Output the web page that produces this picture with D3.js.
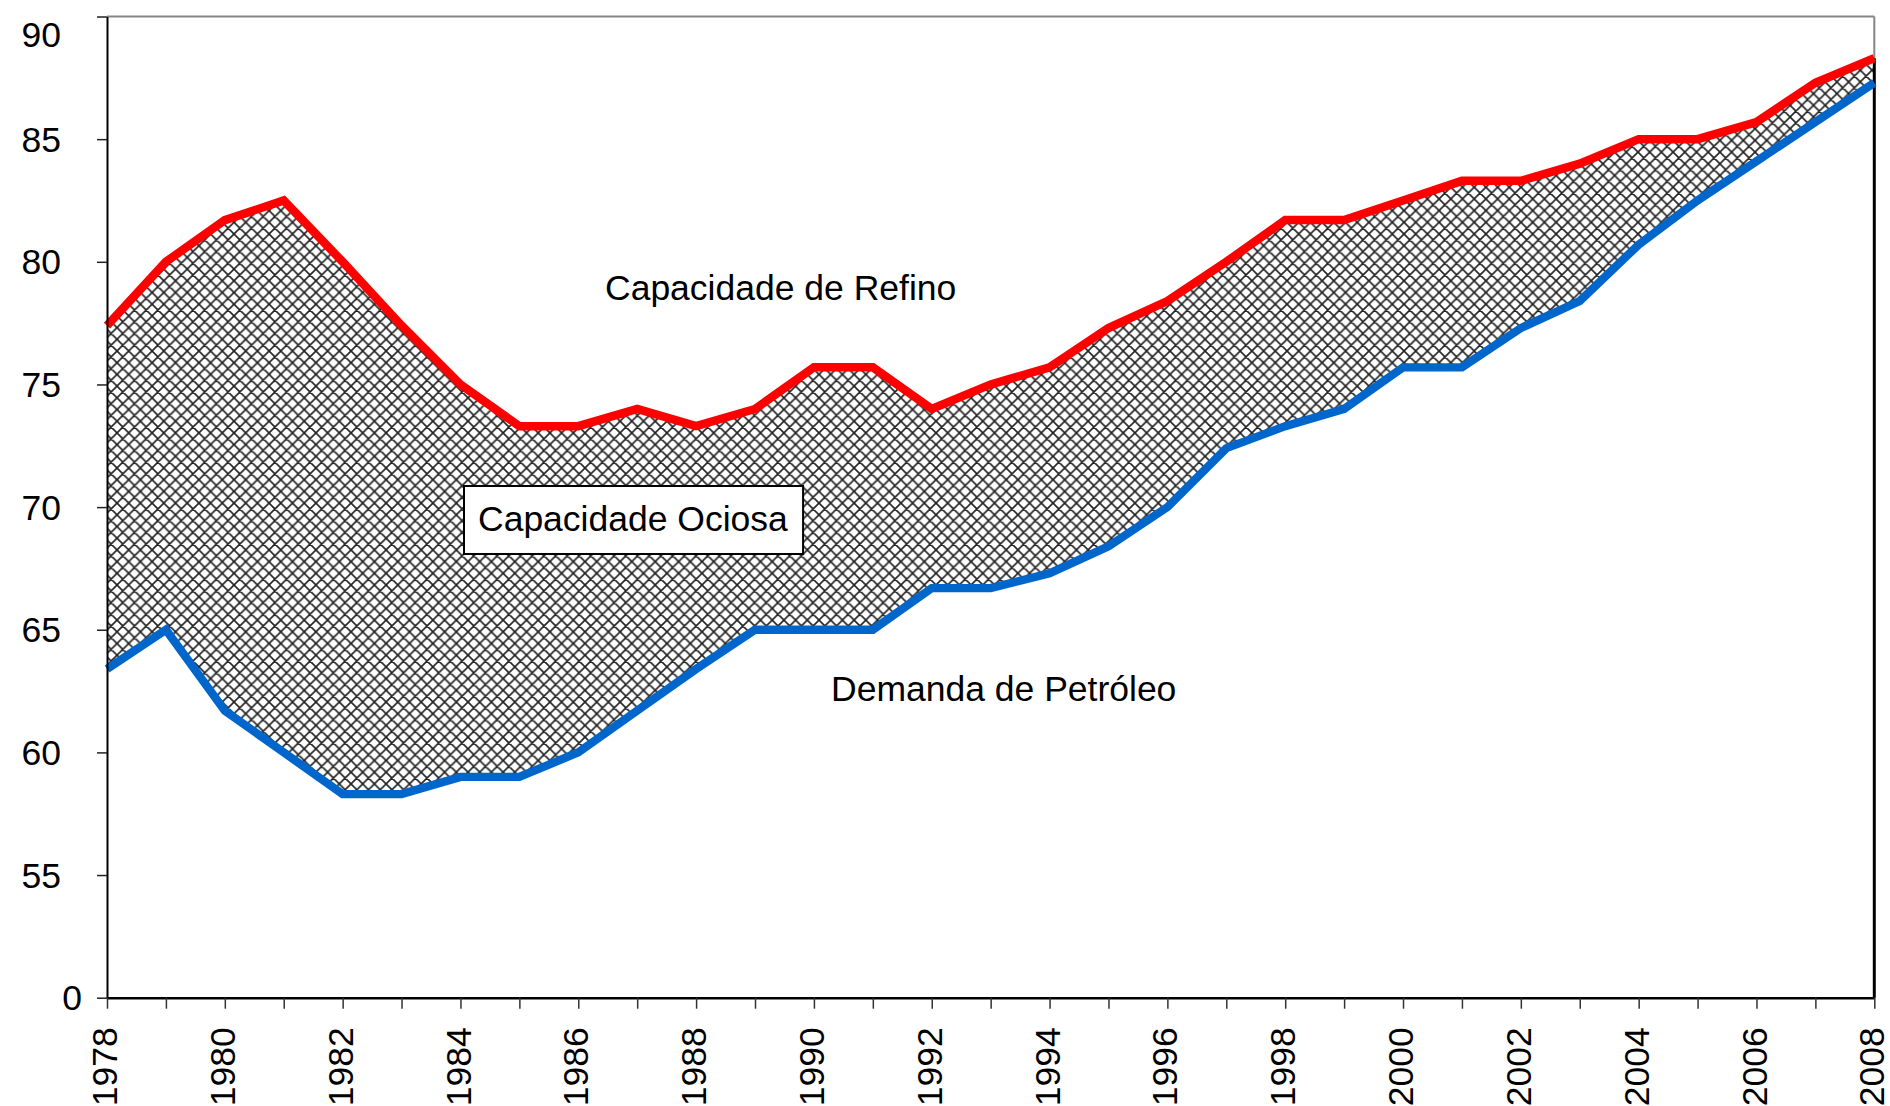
<!DOCTYPE html>
<html><head><meta charset="utf-8">
<script src="https://cdn.jsdelivr.net/npm/d3@7"></script>
<style>
body{margin:0;background:#fff}
svg{display:block}
text{font-family:"Liberation Sans",Arial,Helvetica,sans-serif;fill:#000}
</style>
</head><body>
<svg id="chart" width="1890" height="1106"></svg>
<script>
const years = [1978,1979,1980,1981,1982,1983,1984,1985,1986,1987,1988,1989,1990,1991,1992,1993,1994,1995,1996,1997,1998,1999,2000,2001,2002,2003,2004,2005,2006,2007,2008];
const capacidadeRefino = [77.4,80.0,81.7,82.5,80.0,77.4,75.0,73.3,73.3,74.0,73.3,74.0,75.7,75.7,74.0,75.0,75.7,77.3,78.4,80.0,81.7,81.7,82.5,83.3,83.3,84.0,85.0,85.0,85.7,87.3,88.3];
const demandaPetroleo = [63.4,65.0,61.7,60.0,58.3,58.3,59.0,59.0,60.0,61.7,63.4,65.0,65.0,65.0,66.7,66.7,67.3,68.4,70.0,72.4,73.3,74.0,75.7,75.7,77.3,78.4,80.7,82.5,84.1,85.7,87.3];
const yTickValues = [50,55,60,65,70,75,80,85,90];
const yTickLabels = ["0","55","60","65","70","75","80","85","90"];
const xTickLabels = ["1978","1980","1982","1984","1986","1988","1990","1992","1994","1996","1998","2000","2002","2004","2006","2008"];
const labelRefino = "Capacidade de Refino";
const labelDemanda = "Demanda de Petróleo";
const labelOciosa = "Capacidade Ociosa";

(function() {
const data = years.map((yr, i) => ({year: yr, cap: capacidadeRefino[i], dem: demandaPetroleo[i]}));

const pLeft = 107, pRight = 1874.3, pTop = 16.5, pBottom = 997.7;
const fs = "35.5px";
const svg = d3.select("#chart");
const x = d3.scaleLinear().domain([1978, 2008]).range([pLeft, pRight]);
const y = d3.scaleLinear().domain([50, 90]).range([pBottom, pTop]);

// hatch pattern
const defs = svg.append("defs");
const s = 11.7;
const pat = defs.append("pattern").attr("id", "hatch")
  .attr("patternUnits", "userSpaceOnUse").attr("width", s).attr("height", s);
pat.append("rect").attr("width", s).attr("height", s).attr("fill", "#fff");
pat.append("path")
  .attr("d", `M-2,-2L${s+2},${s+2} M-2,${s-2}L2,${s+2} M${s-2},-2L${s+2},2 M-2,${s+2}L${s+2},-2 M-2,2L2,-2 M${s-2},${s+2}L${s+2},${s-2}`)
  .attr("stroke", "#222").attr("stroke-width", 1.6).attr("fill", "none");

// area between demand and capacity
const area = d3.area().x(d => x(d.year)).y0(d => y(d.dem)).y1(d => y(d.cap));
svg.append("path").datum(data).attr("d", area).attr("fill", "url(#hatch)");

// top / right borders
const capEnd = y(capacidadeRefino[capacidadeRefino.length - 1]);
svg.append("line").attr("x1", pLeft).attr("x2", pRight).attr("y1", pTop).attr("y2", pTop)
  .attr("stroke", "#858585").attr("stroke-width", 2);
svg.append("line").attr("x1", pRight).attr("x2", pRight).attr("y1", pTop).attr("y2", capEnd)
  .attr("stroke", "#858585").attr("stroke-width", 2);
svg.append("line").attr("x1", pRight).attr("x2", pRight).attr("y1", capEnd).attr("y2", pBottom)
  .attr("stroke", "#000").attr("stroke-width", 3);

// lines
const lineCap = d3.line().x(d => x(d.year)).y(d => y(d.cap));
const lineDem = d3.line().x(d => x(d.year)).y(d => y(d.dem));
svg.append("path").datum(data).attr("d", lineCap).attr("fill", "none")
  .attr("stroke", "#ff0000").attr("stroke-width", 8.5).attr("stroke-linejoin", "miter").attr("stroke-miterlimit", 3);
svg.append("path").datum(data).attr("d", lineDem).attr("fill", "none")
  .attr("stroke", "#0066cc").attr("stroke-width", 8.3).attr("stroke-linejoin", "miter").attr("stroke-miterlimit", 3);

// y axis
const yAxis = d3.axisLeft(y).tickValues(yTickValues)
  .tickFormat((d, i) => yTickLabels[i]).tickSize(10).tickSizeOuter(0).tickPadding(36);
const gy = svg.append("g").attr("transform", `translate(${pLeft},0)`).call(yAxis);
gy.select(".domain").attr("stroke", "#000").attr("stroke-width", 2);
gy.selectAll(".tick line").attr("stroke", "#222").attr("stroke-width", 1.5);
gy.selectAll(".tick text").style("font-size", fs).attr("dy", "0.34em");
gy.selectAll(".tick").each(function(d) {
  const t = d3.select(this).select("text");
  if (d === 50) t.attr("x", -25);
  const bb = t.node().getBBox();
  const absTop = y(d) + bb.y;
  if (absTop < 14) t.attr("transform", `translate(0,${14 - absTop})`);
});

// x axis
const xAxis = d3.axisBottom(x).tickValues(years)
  .tickFormat(d => xTickLabels.includes(String(d)) ? String(d) : "")
  .tickSize(11).tickSizeOuter(0);
const gx = svg.append("g").attr("transform", `translate(0,${pBottom})`).call(xAxis);
gx.select(".domain").attr("stroke", "#000").attr("stroke-width", 2.5);
gx.selectAll(".tick line").attr("stroke", "#333").attr("stroke-width", 1.5);
gx.selectAll(".tick text").style("font-size", fs)
  .attr("transform", "rotate(-90)").attr("text-anchor", "end")
  .attr("x", -29.5).attr("y", 0).attr("dy", "0.27em");

// annotations
svg.append("text").attr("x", 605).attr("y", 300).style("font-size", fs).text(labelRefino);
svg.append("text").attr("x", 831).attr("y", 701).style("font-size", fs).text(labelDemanda);
const box = svg.append("g");
const bt = box.append("text").attr("x", 478).attr("y", 531).style("font-size", fs).text(labelOciosa);
const bb = bt.node().getBBox();
box.insert("rect", "text").attr("x", 464).attr("y", 486)
  .attr("width", bb.x + bb.width + 15 - 464).attr("height", 68)
  .attr("fill", "#fff").attr("stroke", "#000").attr("stroke-width", 2);
})();
</script>
</body></html>
